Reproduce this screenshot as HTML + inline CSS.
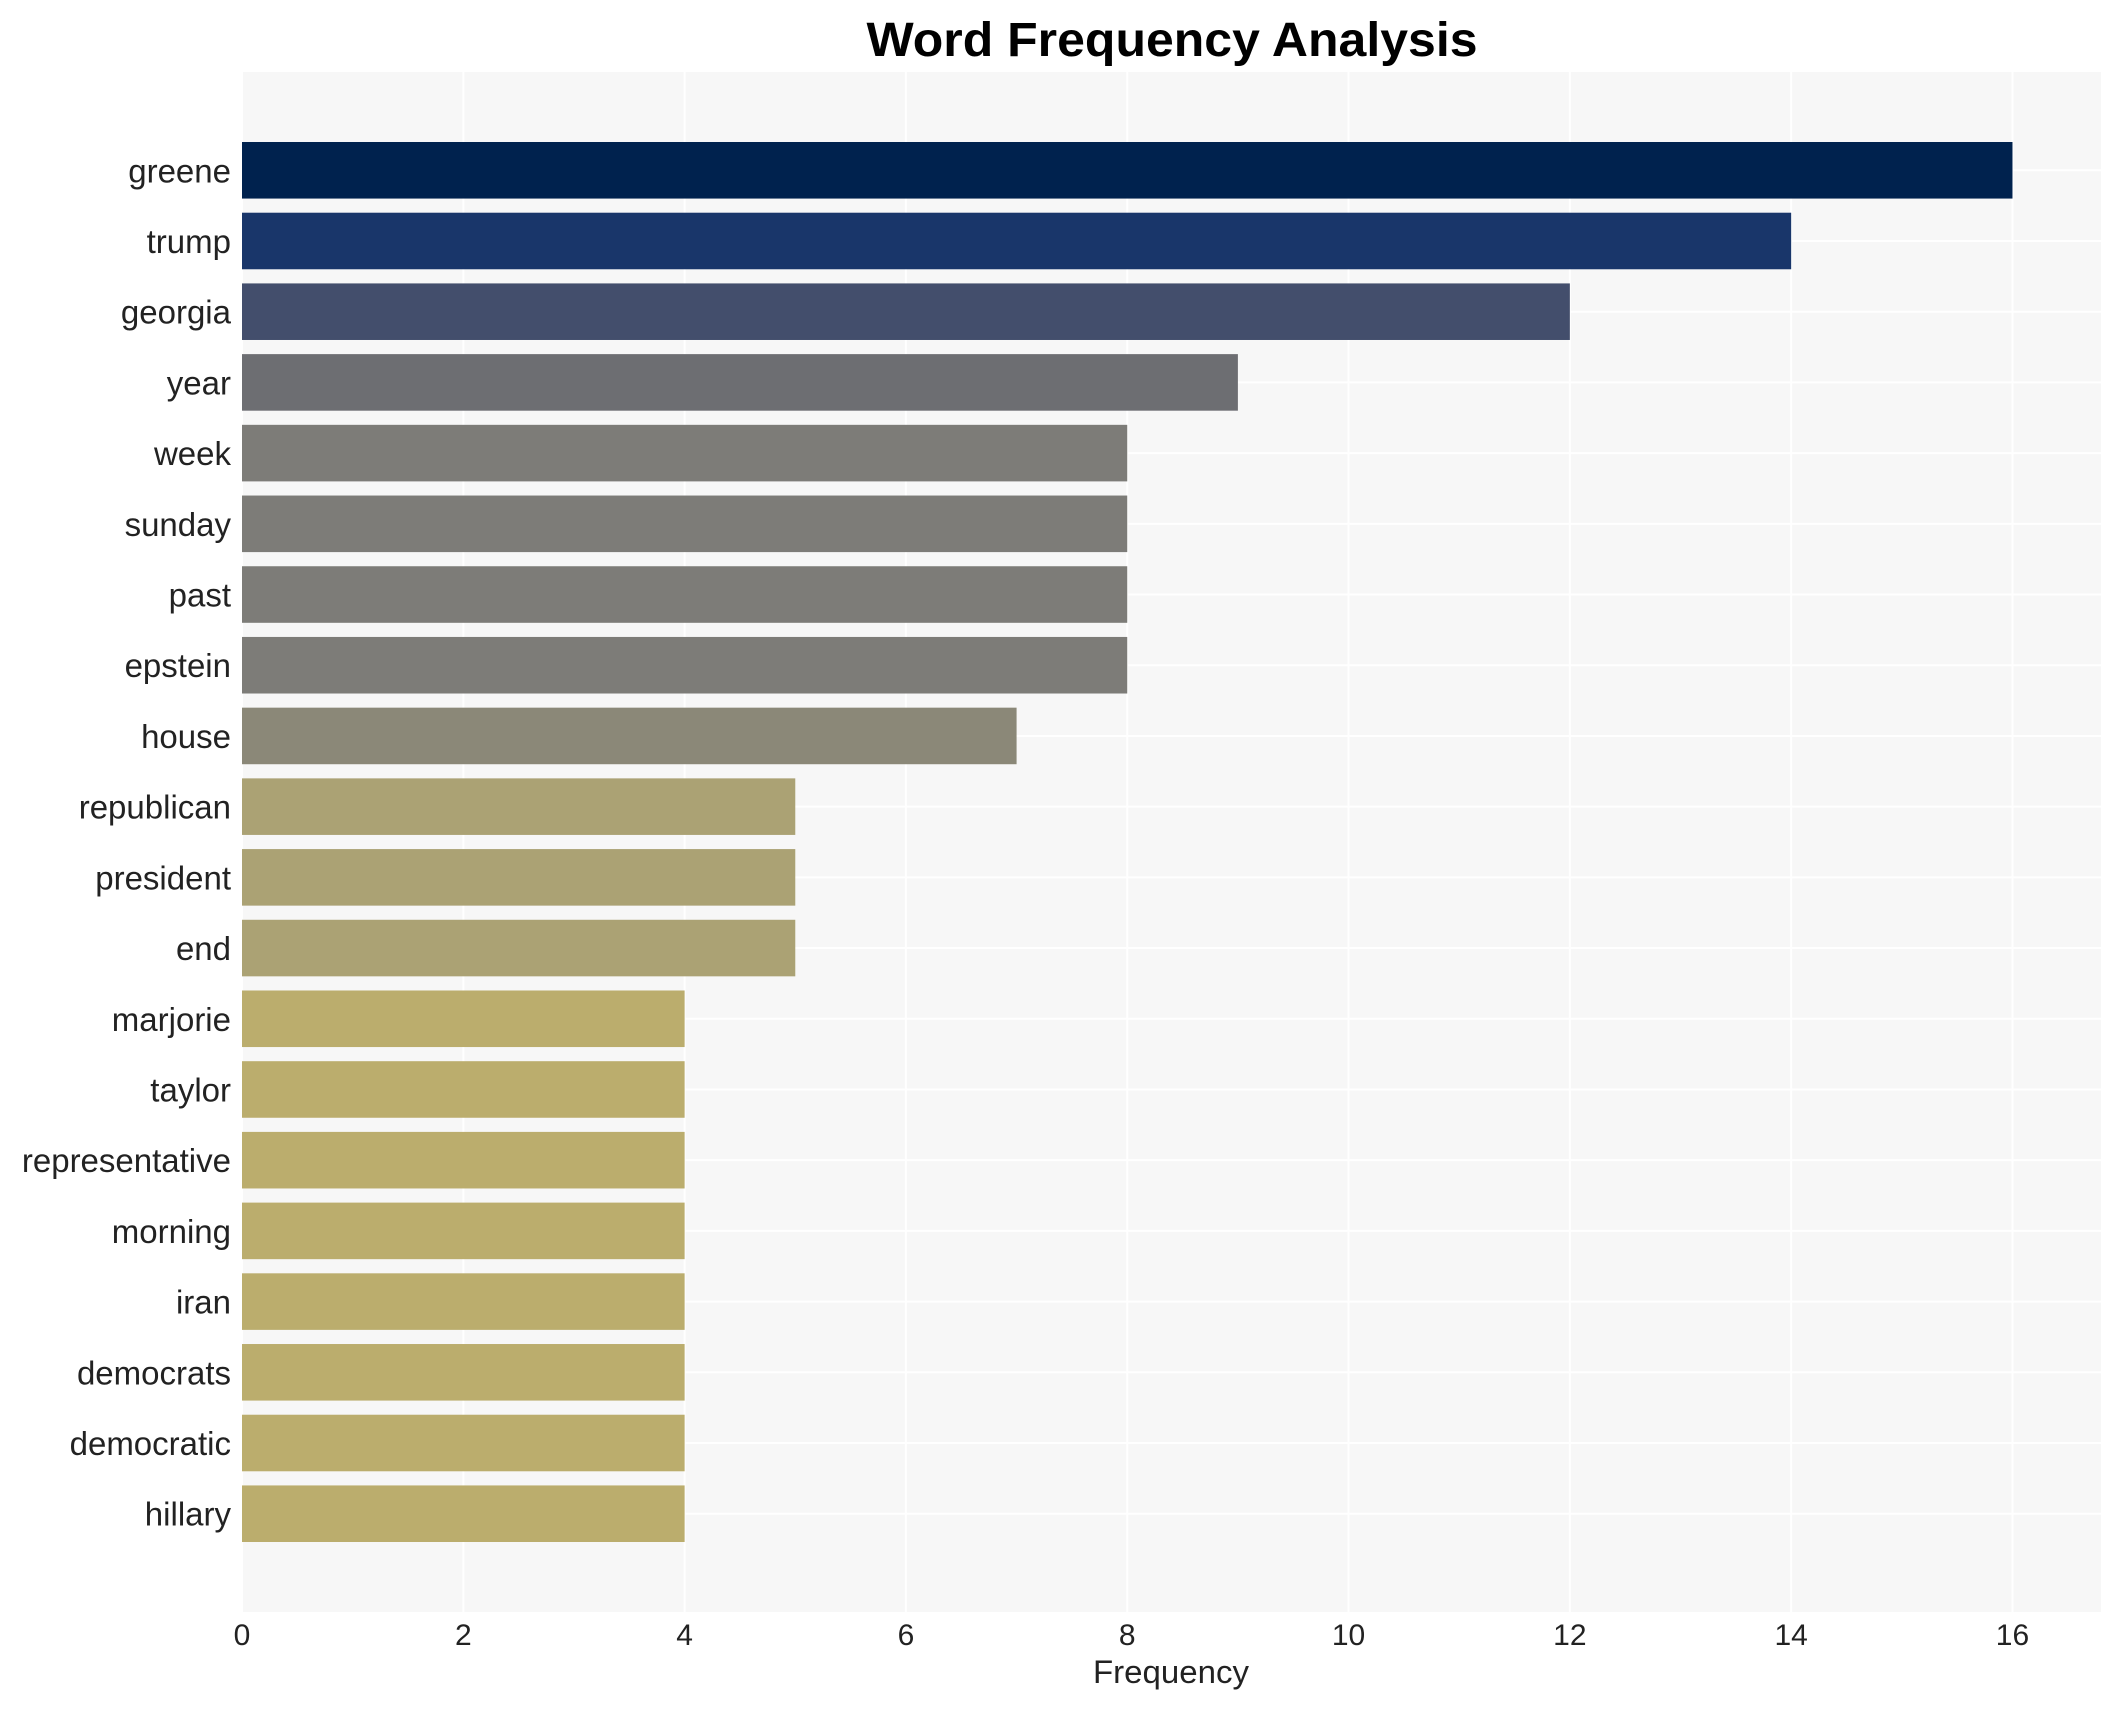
<!DOCTYPE html>
<html><head><meta charset="utf-8"><style>
html,body{margin:0;padding:0;background:#fff;}
svg{display:block;font-family:"Liberation Sans",sans-serif;}
</style></head><body>
<svg id="chart" width="2121" height="1710" viewBox="0 0 2121 1710">
<rect x="0" y="0" width="2121" height="1710" fill="#ffffff"/>
<text x="1172" y="56" text-anchor="middle" font-weight="bold" font-size="48" fill="#000" textLength="611" lengthAdjust="spacingAndGlyphs">Word Frequency Analysis</text>
<rect x="242" y="72" width="1859" height="1540" fill="#f7f7f7"/>
<g id="grid"></g>
<g id="bars"></g>
<g id="ylabels"></g>
<g id="xticks"></g>
<text x="1171" y="1683" text-anchor="middle" font-size="32" fill="#222" textLength="156" lengthAdjust="spacingAndGlyphs">Frequency</text>
</svg>
<script>
const categories = ["greene","trump","georgia","year","week","sunday","past","epstein","house","republican","president","end","marjorie","taylor","representative","morning","iran","democrats","democratic","hillary"];
const values = [16,14,12,9,8,8,8,8,7,5,5,5,4,4,4,4,4,4,4,4];
const barColors = ["#00224e","#19366a","#434e6c","#6d6e72","#7d7c78","#7d7c78","#7d7c78","#7d7c78","#8b8878","#aba274","#aba274","#aba274","#bbad6d","#bbad6d","#bbad6d","#bbad6d","#bbad6d","#bbad6d","#bbad6d","#bbad6d"];
const xTicks = [0,2,4,6,8,10,12,14,16];

const NS = "http://www.w3.org/2000/svg";
const plotL = 242, plotR = 2101, plotT = 72, plotB = 1612;
const xMax = 16.8;
function xScale(v){ return plotL + v * (plotR - plotL) / xMax; }
const n = categories.length;
const pad = 1.39;
const pitch = (plotB - plotT) / (n - 1 + 2 * pad);
function yScale(i){ return plotT + (pad + i) * pitch; }
const barH = pitch * 0.8;

const grid = document.getElementById('grid');
const bars = document.getElementById('bars');
const ylabels = document.getElementById('ylabels');
const xt = document.getElementById('xticks');

xTicks.forEach(t => {
  const l = document.createElementNS(NS, 'line');
  l.setAttribute('x1', xScale(t)); l.setAttribute('x2', xScale(t));
  l.setAttribute('y1', plotT); l.setAttribute('y2', plotB);
  l.setAttribute('stroke', '#ffffff'); l.setAttribute('stroke-width', '2');
  
  
  grid.appendChild(l);
  const tx = document.createElementNS(NS, 'text');
  tx.setAttribute('x', xScale(t)); tx.setAttribute('y', 1645);
  tx.setAttribute('text-anchor', 'middle'); tx.setAttribute('font-size', '30');
  tx.setAttribute('fill', '#222');
  tx.textContent = t;
  
  
  xt.appendChild(tx);
});

categories.forEach((c, i) => {
  const yc = yScale(i);
  const g = document.createElementNS(NS, 'line');
  g.setAttribute('x1', plotL); g.setAttribute('x2', plotR);
  g.setAttribute('y1', yc); g.setAttribute('y2', yc);
  g.setAttribute('stroke', '#ffffff'); g.setAttribute('stroke-width', '2');
  
  
  grid.appendChild(g);
  const r = document.createElementNS(NS, 'rect');
  r.setAttribute('x', xScale(0)); r.setAttribute('y', yc - barH / 2);
  r.setAttribute('width', xScale(values[i]) - xScale(0)); r.setAttribute('height', barH);
  r.setAttribute('fill', barColors[i]);
  
  
  bars.appendChild(r);
  const tx = document.createElementNS(NS, 'text');
  tx.setAttribute('x', 231); tx.setAttribute('y', yc + 12);
  tx.setAttribute('text-anchor', 'end'); tx.setAttribute('font-size', '33');
  tx.setAttribute('fill', '#222');
  tx.textContent = c;
  
  
  ylabels.appendChild(tx);
});
</script>
</body></html>
